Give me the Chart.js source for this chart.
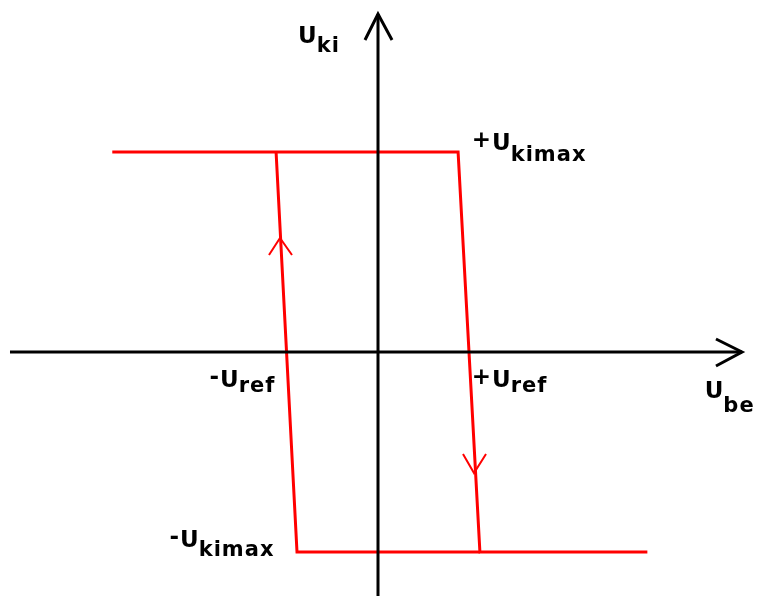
<!DOCTYPE html>
<html>
<head>
<meta charset="utf-8">
<script src="https://cdn.jsdelivr.net/npm/chart.js@4.4.1/dist/chart.umd.min.js"></script>
<style>
  body { margin: 0; background: #fff; }
  #wrap { width: 758px; height: 596px; }
</style>
</head>
<body>
<div id="wrap"><canvas id="hyst" width="758" height="596"></canvas></div>
<script>
// hysteresis loop, x in units of Uref, y in units of Ukimax
const upperX = [-2.92, 0.88, 1.12, 2.96]
const upperY = [1, 1, -1, -1]
const lowerX = [-1.12, -0.89, 1.12]
const lowerY = [1, -1, -1]

// direction arrows on the two switching edges
const upArrowX = [-1.198, -1.077, -0.945]
const upArrowY = [0.485, 0.57, 0.485]
const downArrowX = [0.934, 1.055, 1.187]
const downArrowY = [-0.51, -0.605, -0.51]

// axes
const xAxisX = [-4.044, 4.0]
const xAxisY = [0, 0]
const yAxisX = [0, 0]
const yAxisY = [-1.25, 1.69]
const xHeadX = [3.714, 4.0, 3.714]
const xHeadY = [0.065, 0, -0.07]
const yHeadX = [-0.143, 0, 0.154]
const yHeadY = [1.56, 1.69, 1.56]

const labelPre = ['', '+', '-', '+', '', '-']
const labelMain = ['U', 'U', 'U', 'U', 'U', 'U']
const labelSub = ['ki', 'kimax', 'ref', 'ref', 'be', 'kimax']
const labelX = [-0.879, 1.253, -1.736, 1.253, 3.59, -2.176]
const labelY = [1.545, 1.01, -0.175, -0.175, -0.23, -0.975]
const labelSubDrop = [9, 11, 5, 5, 14, 9]

const pts = (xs, ys) => xs.map((x, i) => ({ x: x, y: ys[i] }))

const line = (xs, ys, color, width) => ({
    data: pts(xs, ys),
    showLine: true,
    borderColor: color,
    borderWidth: width,
    pointRadius: 0,
    fill: false,
    tension: 0,
    borderJoinStyle: 'miter',
    borderCapStyle: 'butt'
})

const labelPlugin = {
    id: 'labels',
    afterDatasetsDraw(chart) {
        const ctx = chart.ctx
        const sx = chart.scales.x
        const sy = chart.scales.y
        ctx.save()
        ctx.fillStyle = '#000'
        ctx.textBaseline = 'alphabetic'
        labelMain.forEach((m, i) => {
            const px = sx.getPixelForValue(labelX[i])
            const py = sy.getPixelForValue(labelY[i])
            ctx.letterSpacing = '0px'
            ctx.font = 'bold 23px "DejaVu Sans"'
            ctx.textAlign = 'right'
            if (labelPre[i]) ctx.fillText(labelPre[i], px - 1, py - 3)
            ctx.textAlign = 'left'
            ctx.fillText(m, px, py)
            const w = ctx.measureText(m).width
            ctx.font = 'bold 21px "DejaVu Sans"'
            ctx.letterSpacing = '1px'
            ctx.fillText(labelSub[i], px + w, py + labelSubDrop[i])
        })
        ctx.restore()
    }
}

new Chart(document.getElementById('hyst'), {
    type: 'scatter',
    data: {
        datasets: [
            line(xAxisX, xAxisY, '#000', 3),
            line(yAxisX, yAxisY, '#000', 3),
            line(xHeadX, xHeadY, '#000', 3),
            line(yHeadX, yHeadY, '#000', 3),
            line(upperX, upperY, '#ff0000', 3),
            line(lowerX, lowerY, '#ff0000', 3),
            line(upArrowX, upArrowY, '#ff0000', 2),
            line(downArrowX, downArrowY, '#ff0000', 2)
        ]
    },
    options: {
        responsive: false,
        animation: false,
        layout: { padding: 0 },
        plugins: { legend: { display: false }, tooltip: { enabled: false } },
        scales: {
            x: { type: 'linear', display: false, min: -378 / 91, max: 380 / 91 },
            y: { type: 'linear', display: false, min: -1.22, max: 1.76 }
        }
    },
    plugins: [labelPlugin]
})
</script>
</body>
</html>
